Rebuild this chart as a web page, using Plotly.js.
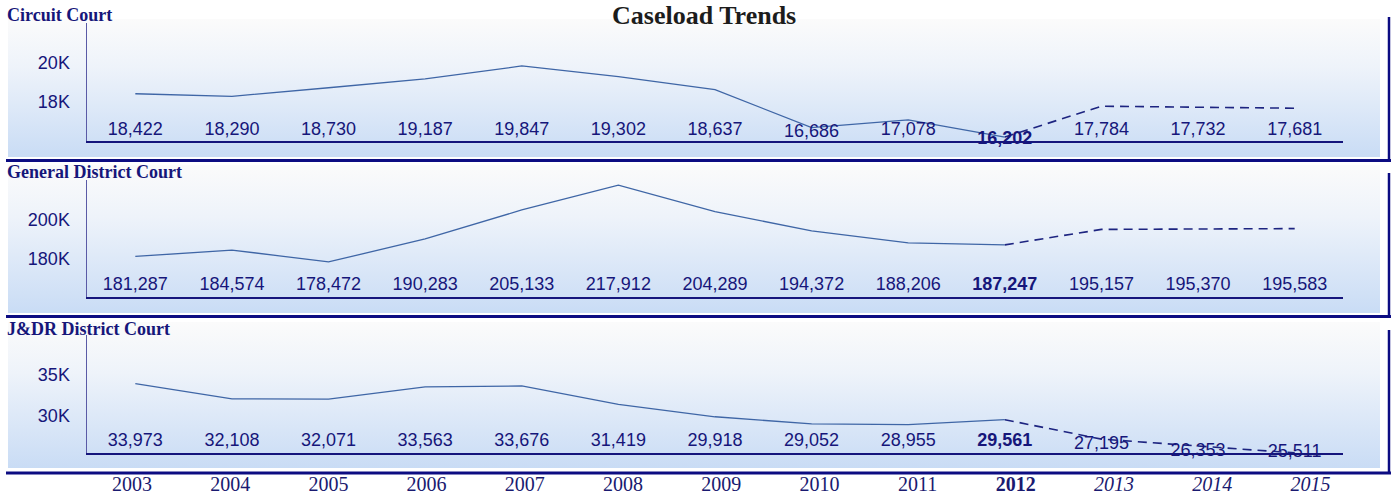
<!DOCTYPE html>
<html>
<head>
<meta charset="utf-8">
<script src="https://cdn.plot.ly/plotly-3.0.1.min.js"></script>
<style>
  html, body { margin: 0; padding: 0; background: #ffffff; }
  #chart { width: 1394px; height: 498px; }
</style>
</head>
<body>
<div id="chart"></div>
<script>
// ---------- DATA ----------
const years = ['2003','2004','2005','2006','2007','2008','2009','2010','2011','2012','2013','2014','2015'];
const lastActualIndex = 9; // 2012 is the last actual year; 2013-2015 are projections

const courtNames = ['Circuit Court', 'General District Court', 'J&DR District Court'];

const circuitCourt = [18422, 18290, 18730, 19187, 19847, 19302, 18637, 16686, 17078, 16202, 17784, 17732, 17681];
const generalDistrictCourt = [181287, 184574, 178472, 190283, 205133, 217912, 204289, 194372, 188206, 187247, 195157, 195370, 195583];
const jdrDistrictCourt = [33973, 32108, 32071, 33563, 33676, 31419, 29918, 29052, 28955, 29561, 27195, 26353, 25511];

const circuitTicks = [18000, 20000];
const circuitTickText = ['18K', '20K'];
const gdcTicks = [180000, 200000];
const gdcTickText = ['180K', '200K'];
const jdrTicks = [30000, 35000];
const jdrTickText = ['30K', '35K'];

// ---------- STYLE ----------
const W = 1394, H = 498;
const NAVY = '#16167a';
const ACTUAL_COLOR = '#3f66a6';
const PROJ_COLOR = '#1d2480';
const px2x = p => p / W;
const px2y = p => 1 - p / H;

const xDomain = [px2x(87), px2x(1343)];

// per-panel layout (pixel geometry of the plot area, axis range, label placement)
const panels = [
  { values: circuitCourt, ticks: circuitTicks, tickText: circuitTickText,
    top: 23, bottom: 141, range: [16000, 22050], labelBase: 16513, labelDrop: 256, labelFloor: 16077,
    box: [19, 157], title: courtNames[0], titleY: 15.3, rule: 160.5, rTop: 17 },
  { values: generalDistrictCourt, ticks: gdcTicks, tickText: gdcTickText,
    top: 180, bottom: 297, range: [160500, 220500], labelBase: 166154, labelDrop: 2560, labelFloor: 161000,
    box: [165, 313], title: courtNames[1], titleY: 171.8, rule: 316.5, rTop: 173 },
  { values: jdrDistrictCourt, ticks: jdrTicks, tickText: jdrTickText,
    top: 335, bottom: 453, range: [25500, 39890], labelBase: 26890, labelDrop: 610, labelFloor: 25610,
    box: [322, 468], title: courtNames[2], titleY: 328.8, rule: 473, rTop: 330 }
];

const idx = years.map((_, i) => i);
const fmt = v => v.toLocaleString('en-US');

const traces = [];
const layout = {
  width: W, height: H,
  margin: { l: 0, r: 0, t: 0, b: 0 },
  paper_bgcolor: '#ffffff',
  plot_bgcolor: 'rgba(0,0,0,0)',
  showlegend: false,
  font: { family: 'Liberation Sans, Arial, sans-serif', color: NAVY },
  annotations: [],
  shapes: [],
  images: []
};

// gradient panel background (generated locally)
const gradSvg = "<svg xmlns='http://www.w3.org/2000/svg' width='100' height='100' viewBox='0 0 100 100' preserveAspectRatio='none'>" +
  "<defs><linearGradient id='g' x1='0' y1='0' x2='0' y2='1'>" +
  "<stop offset='0' stop-color='#fbfbfb'/><stop offset='0.35' stop-color='#eef3fa'/><stop offset='1' stop-color='#c9dcf5'/>" +
  "</linearGradient></defs><rect x='0' y='0' width='100' height='100' fill='url(#g)'/></svg>";
const gradUri = 'data:image/svg+xml;base64,' + btoa(gradSvg);

panels.forEach((p, k) => {
  const n = k + 1;
  const xa = 'x' + (n === 1 ? '' : n);
  const ya = 'y' + (n === 1 ? '' : n);
  const xKey = 'xaxis' + (n === 1 ? '' : n);
  const yKey = 'yaxis' + (n === 1 ? '' : n);

  // actual series
  traces.push({
    type: 'scatter', mode: 'lines', xaxis: xa, yaxis: ya,
    x: idx.slice(0, lastActualIndex + 1), y: p.values.slice(0, lastActualIndex + 1),
    line: { color: ACTUAL_COLOR, width: 1.3 }, hoverinfo: 'skip'
  });
  // projection
  traces.push({
    type: 'scatter', mode: 'lines', xaxis: xa, yaxis: ya,
    x: idx.slice(lastActualIndex), y: p.values.slice(lastActualIndex),
    line: { color: PROJ_COLOR, width: 1.6, dash: '9px,6px' }, hoverinfo: 'skip'
  });
  // value labels
  traces.push({
    type: 'scatter', mode: 'text', xaxis: xa, yaxis: ya,
    x: idx,
    y: p.values.map(v => Math.max(p.labelFloor, Math.min(p.labelBase, v - p.labelDrop))),
    text: p.values.map((v, i) => i === lastActualIndex ? '<b>' + fmt(v) + '</b>' : fmt(v)),
    textposition: 'middle center',
    textfont: { family: 'Liberation Sans, Arial, sans-serif', size: 18, color: NAVY },
    hoverinfo: 'skip', cliponaxis: false
  });

  layout[xKey] = {
    domain: xDomain, range: [-0.5, 12.5], anchor: ya,
    showgrid: false, zeroline: false, showticklabels: false, ticks: '',
    showline: true, linecolor: '#15157c', linewidth: 1.5, fixedrange: true
  };
  layout[yKey] = {
    domain: [px2y(p.bottom), px2y(p.top)], range: p.range, anchor: xa,
    showgrid: false, zeroline: false, ticks: '',
    tickvals: p.ticks, ticktext: p.tickText, ticklabelstandoff: 12,
    tickfont: { family: 'Liberation Sans, Arial, sans-serif', size: 18, color: NAVY },
    showline: true, linecolor: '#5a5aa6', linewidth: 1.5, fixedrange: true
  };

  // background panel
  layout.images.push({
    source: gradUri, xref: 'paper', yref: 'paper',
    x: px2x(8), y: px2y(p.box[0]), sizex: px2x(1380) - px2x(8), sizey: (p.box[1] - p.box[0]) / H,
    xanchor: 'left', yanchor: 'top', sizing: 'stretch', layer: 'below'
  });
  // frame lines
  layout.shapes.push({
    type: 'line', xref: 'paper', yref: 'paper',
    x0: px2x(6), x1: px2x(1391), y0: px2y(p.rule), y1: px2y(p.rule),
    line: { color: '#0c0c82', width: 3 }
  });
  layout.shapes.push({
    type: 'line', xref: 'paper', yref: 'paper',
    x0: px2x(1389), x1: px2x(1389), y0: px2y(p.rTop), y1: px2y(p.rule),
    line: { color: '#0c0c82', width: 2.5 }
  });
  // panel title
  layout.annotations.push({
    text: '<b>' + p.title.replace('&', '&amp;') + '</b>', xref: 'paper', yref: 'paper',
    x: px2x(5), y: px2y(p.titleY), xanchor: 'left', yanchor: 'middle', showarrow: false,
    font: { family: 'Liberation Serif, Times New Roman, serif', size: 18, color: NAVY }
  });
});

// year labels row
layout.xaxis4 = { domain: xDomain, range: [-0.458, 12.332], anchor: 'y4', visible: false, fixedrange: true };
layout.yaxis4 = { domain: [0, 0.05], range: [-1, 1], anchor: 'x4', visible: false, fixedrange: true };
traces.push({
  type: 'scatter', mode: 'text', xaxis: 'x4', yaxis: 'y4',
  x: idx, y: idx.map(() => 0),
  text: years.map((y, i) => i === lastActualIndex ? '<b>' + y + '</b>' : (i > lastActualIndex ? '<i>' + y + '</i>' : y)),
  textposition: 'middle center',
  textfont: { family: 'Liberation Serif, Times New Roman, serif', size: 20, color: '#1a1a70' },
  hoverinfo: 'skip', cliponaxis: false
});

// main title
layout.annotations.push({
  text: '<b>Caseload Trends</b>', xref: 'paper', yref: 'paper',
  x: px2x(704), y: px2y(15.5), xanchor: 'center', yanchor: 'middle', showarrow: false,
  borderpad: 0,
  font: { family: 'Liberation Serif, Times New Roman, serif', size: 26, color: '#1c1c1c' }
});

Plotly.newPlot('chart', traces, layout, { staticPlot: true, displayModeBar: false });
</script>
</body>
</html>
